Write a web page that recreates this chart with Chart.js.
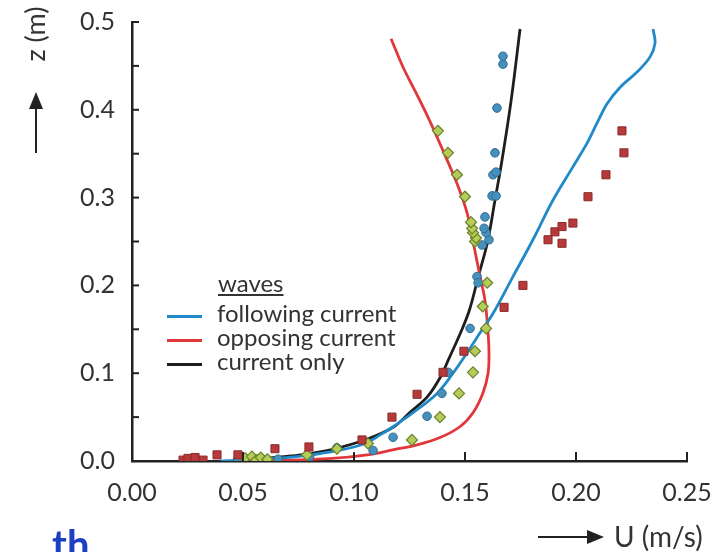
<!DOCTYPE html>
<html><head><meta charset="utf-8">
<script src="https://cdn.jsdelivr.net/npm/chart.js@4.4.1/dist/chart.umd.min.js"></script>
<style>
html,body{margin:0;padding:0;background:#fff;overflow:hidden;width:713px;height:552px}
#wrap{position:relative;width:713px;height:552px;overflow:hidden}
canvas{position:absolute;left:0;top:0}
.t{position:absolute;font-family:Lato,sans-serif;color:#333;white-space:nowrap;line-height:24px;height:24px}
.ln{position:absolute;height:3px;width:35px}
</style></head><body>
<div id="wrap">
<canvas id="c" width="713" height="552"></canvas>
<div class="t" id="ytitle" style="font-size:27px;left:0px;top:22px;width:70px;text-align:center;transform:rotate(-90deg)">z (m)</div>
<div class="t" id="xtitle" style="font-size:28px;left:614px;top:524px">U (m/s)</div>
<div class="t" id="legTitle" style="font-size:24px;left:218px;top:271px;text-decoration:underline">waves</div>
<div id="legRows"></div>
<div class="t" style="font-size:40px;font-weight:bold;color:#1d3fc4;left:52px;top:524px;line-height:40px;height:40px">th</div>
</div>
<script>
// ---- data ----
const xTicks = [0.00, 0.05, 0.10, 0.15, 0.20, 0.25];
const yTicks = [0.0, 0.1, 0.2, 0.3, 0.4, 0.5];
const yMinorTicks = [0.05, 0.15, 0.25, 0.35, 0.45];

const legendTitle = 'waves';
const curveNames = ['following current', 'opposing current', 'current only'];

// model curves: U (m/s), z (m)
const followingU = [0.040,0.060,0.078,0.093,0.105,0.112,0.1176,0.1266,0.1374,0.1446,0.1509,0.1568,0.1626,0.1716,0.1806,0.1896,0.1986,0.205,0.2095,0.214,0.220,0.2275,0.2333,0.2356,0.2347];
const followingZ = [0.000,0.002,0.006,0.012,0.020,0.030,0.039,0.055,0.077,0.100,0.123,0.146,0.168,0.210,0.252,0.297,0.335,0.362,0.385,0.407,0.426,0.443,0.460,0.476,0.492];

const opposingU = [0.060,0.090,0.106,0.118,0.128,0.139,0.1477,0.1536,0.158,0.1604,0.1608,0.1604,0.159,0.1568,0.1536,0.151,0.1464,0.140,0.134,0.128,0.122,0.1167];
const opposingZ = [0.000,0.003,0.007,0.013,0.018,0.027,0.039,0.055,0.077,0.100,0.123,0.146,0.183,0.210,0.250,0.282,0.316,0.354,0.388,0.419,0.449,0.481];

const currentU = [0.045,0.060,0.076,0.090,0.106,0.118,0.125,0.133,0.139,0.143,0.148,0.152,0.156,0.1602,0.1635,0.1665,0.1708,0.1748];
const currentZ = [0.000,0.003,0.007,0.013,0.025,0.039,0.055,0.073,0.096,0.118,0.146,0.172,0.210,0.250,0.297,0.340,0.411,0.492];

// measured points
const squaresU = [0.023,0.0252,0.0284,0.032,0.0383,0.0477,0.0644,0.0797,0.1036,0.1171,0.1284,0.1401,0.1495,0.1676,0.1761,0.1874,0.1937,0.1905,0.1937,0.1986,0.2054,0.2135,0.2216,0.2207];
const squaresZ = [0.001,0.003,0.004,0.001,0.007,0.007,0.014,0.016,0.024,0.050,0.076,0.101,0.125,0.175,0.200,0.252,0.248,0.261,0.267,0.271,0.301,0.326,0.351,0.376];

const diamondsU = [0.051,0.054,0.056,0.058,0.061,0.0788,0.0923,0.1063,0.1261,0.1387,0.1473,0.1536,0.1545,0.1595,0.158,0.160,0.1545,0.155,0.1536,0.1532,0.1527,0.150,0.1464,0.1423,0.1378];
const diamondsZ = [0.003,0.005,0.001,0.004,0.002,0.007,0.014,0.020,0.024,0.050,0.077,0.101,0.125,0.151,0.176,0.203,0.250,0.254,0.260,0.265,0.272,0.301,0.326,0.351,0.376];

const circlesU = [0.0477,0.0658,0.080,0.0923,0.1086,0.1176,0.1329,0.1396,0.1424,0.1523,0.1554,0.1559,0.1577,0.1608,0.1595,0.1586,0.159,0.1622,0.164,0.1626,0.164,0.1635,0.1644,0.1671,0.1671];
const circlesZ = [0.002,0.002,0.005,0.015,0.012,0.027,0.051,0.077,0.101,0.151,0.210,0.203,0.246,0.252,0.260,0.265,0.278,0.302,0.302,0.326,0.329,0.351,0.402,0.452,0.461];

const pts = (u, z) => u.map((v, i) => ({x: v, y: z[i]}));

const lineColors = ['#2089c8', '#e2373a', '#1e1e1e'];
const axisColor = '#222';
const font = 'Lato, sans-serif';

// legend rows (HTML)
const legRows = document.getElementById('legRows');
document.getElementById('legTitle').textContent = legendTitle;
curveNames.forEach((name, i) => {
  const top = 301 + i * 24;
  const l = document.createElement('div');
  l.className = 'ln';
  l.style.left = '167px'; l.style.top = (top + 14) + 'px'; l.style.background = lineColors[i];
  legRows.appendChild(l);
  const t = document.createElement('div');
  t.className = 't'; t.style.fontSize = '24px';
  t.style.left = '217px'; t.style.top = top + 'px';
  t.textContent = name;
  legRows.appendChild(t);
});

const extras = {
  id: 'extras',
  afterDraw(chart) {
    const {ctx, chartArea: a, scales: {x, y}} = chart;
    ctx.save();
    ctx.strokeStyle = axisColor; ctx.fillStyle = axisColor; ctx.lineWidth = 2;
    xTicks.forEach(v => {
      if (v === 0) return;
      const px = x.getPixelForValue(v);
      ctx.beginPath(); ctx.moveTo(px, a.bottom); ctx.lineTo(px, a.bottom - 9); ctx.stroke();
    });
    yTicks.concat(yMinorTicks).forEach(v => {
      if (v === 0) return;
      const py = y.getPixelForValue(v);
      ctx.beginPath(); ctx.moveTo(a.left, py); ctx.lineTo(a.left + 7, py); ctx.stroke();
    });
    // up arrow beside z (m)
    ctx.beginPath(); ctx.moveTo(36, 153); ctx.lineTo(36, 105); ctx.stroke();
    ctx.beginPath(); ctx.moveTo(36, 92); ctx.lineTo(29, 109); ctx.lineTo(43, 109); ctx.closePath(); ctx.fill();
    // right arrow before U (m/s)
    ctx.beginPath(); ctx.moveTo(538, 537); ctx.lineTo(592, 537); ctx.stroke();
    ctx.beginPath(); ctx.moveTo(604, 537); ctx.lineTo(587, 530); ctx.lineTo(587, 544); ctx.closePath(); ctx.fill();
    ctx.restore();
  }
};

new Chart(document.getElementById('c'), {
  type: 'scatter',
  data: {
    datasets: [
      {label: 'measured, following current', data: pts(squaresU, squaresZ), pointStyle: 'rect', pointRadius: 5.7,
       backgroundColor: '#b73a3a', borderColor: '#8a2a2a', borderWidth: 1},
      {label: 'measured, opposing current', data: pts(diamondsU, diamondsZ), pointStyle: 'rectRot', pointRadius: 5.5,
       backgroundColor: '#b3cd57', borderColor: '#6c7f2c', borderWidth: 1.2},
      {label: 'measured, current only', data: pts(circlesU, circlesZ), pointStyle: 'circle', pointRadius: 4.3,
       backgroundColor: '#4790bb', borderColor: '#2d6f96', borderWidth: 1},
      {label: curveNames[0], data: pts(followingU, followingZ), showLine: true, pointRadius: 0, borderColor: lineColors[0], borderWidth: 2.8, tension: 0.35, order: 1},
      {label: curveNames[1], data: pts(opposingU, opposingZ), showLine: true, pointRadius: 0, borderColor: lineColors[1], borderWidth: 2.8, tension: 0.35, order: 1},
      {label: curveNames[2], data: pts(currentU, currentZ), showLine: true, pointRadius: 0, borderColor: lineColors[2], borderWidth: 2.8, tension: 0.35, order: 1}
    ]
  },
  options: {
    responsive: false, animation: false,
    layout: {padding: {top: 22, right: 26, bottom: 0, left: 0}},
    plugins: {legend: {display: false}, tooltip: {enabled: false}},
    scales: {
      x: {
        type: 'linear', min: 0, max: 0.25,
        afterBuildTicks: s => { s.ticks = xTicks.map(v => ({value: v})); },
        afterFit: s => { s.height = 91; s.paddingLeft = 0; s.paddingRight = 0; },
        grid: {display: false, drawTicks: false},
        border: {display: true, color: axisColor, width: 2.5},
        ticks: {padding: 17, color: '#333', font: {family: font, size: 25}, callback: v => Number(v).toFixed(2)}
      },
      y: {
        type: 'linear', min: 0, max: 0.5,
        afterBuildTicks: s => { s.ticks = yTicks.map(v => ({value: v})); },
        afterFit: s => { s.width = 132; s.paddingTop = 0; s.paddingBottom = 0; },
        grid: {display: false, drawTicks: false},
        border: {display: true, color: axisColor, width: 2.5},
        ticks: {padding: 17, color: '#333', font: {family: font, size: 25}, callback: v => Number(v).toFixed(1)}
      }
    }
  },
  plugins: [extras]
});
</script>
</body></html>
